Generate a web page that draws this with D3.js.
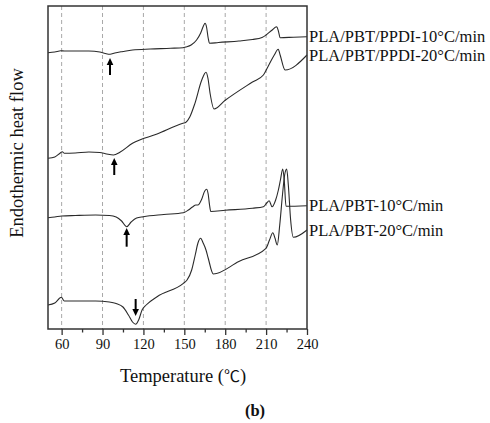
<!DOCTYPE html>
<html>
<head>
<meta charset="utf-8">
<script src="https://cdn.jsdelivr.net/npm/d3@7"></script>
<style>
  html, body { margin: 0; padding: 0; background: #fff; }
  svg { display: block; }
  text { font-family: "Liberation Serif", "Times New Roman", "DejaVu Serif", serif; fill: #111; }
</style>
</head>
<body>
<svg id="chart" width="490" height="423"></svg>
<script>
// ---- data (temperature °C, heat flow in arbitrary units) ----
const seriesNames = [
  "PLA/PBT/PPDI-10°C/min",
  "PLA/PBT/PPDI-20°C/min",
  "PLA/PBT-10°C/min",
  "PLA/PBT-20°C/min"
];

const pplaPbtPpdi10 = [
  [50,27.63],[55,27.70],[59.5,27.82],[62,27.80],[70,27.80],[80,27.80],[88,27.70],[92,27.55],
  [95.5,27.47],[99,27.60],[105,27.75],[112,27.90],[125,28.00],[140,28.07],[149,28.13],[151,28.20],
  [155,28.40],[159,28.90],[162,29.60],[164,30.30],[165.2,30.57],[166.3,30.20],[167.5,29.10],
  [168.5,28.57],[175,28.65],[190,28.80],[200,28.95],[207,29.15],[210,29.40],[214,29.85],
  [217.8,30.23],[219,29.80],[220.3,29.13],[230,29.18],[240,29.23]
];

const plaPbtPpdi20 = [
  [50,17.07],[55,17.20],[59,17.60],[60.5,17.73],[62,17.57],[70,17.60],[80,17.70],[88,17.65],
  [93,17.50],[98,17.40],[103,17.70],[112,18.57],[130,19.50],[149,20.57],[151,20.65],[154,21.20],
  [157.8,22.57],[162.8,24.90],[165.9,25.67],[167.3,25.10],[168.9,23.57],[171.8,22.00],
  [180,22.87],[200,24.70],[208,25.40],[212,26.40],[216,27.40],[218.9,27.97],[220.3,27.40],
  [223.9,25.90],[240,27.40]
];

const plaPbt10 = [
  [50,11.13],[55,11.20],[60,11.30],[70,11.35],[85,11.40],[95,11.35],[100,11.20],[104,10.80],
  [107.7,10.23],[111,10.70],[115,11.10],[120,11.23],[135,11.45],[149.3,11.63],[153,11.90],
  [156,12.20],[158.5,12.40],[160,12.40],[162.5,12.90],[165,13.80],[166.3,13.97],[167.5,13.50],
  [168.5,12.40],[169.4,11.75],[180,11.87],[200,12.08],[208,12.23],[210.5,12.60],[212.2,12.83],
  [214.4,12.23],[217,12.90],[219,13.90],[220.5,14.90],[222.2,16.00],[223.3,14.90],[224.6,12.28],
  [240,12.33]
];

const plaPbt20 = [
  [50,2.40],[55,2.60],[59.8,3.17],[62,2.80],[70,2.80],[85,2.80],[95,2.70],[100,2.55],[105,2.20],
  [109,1.40],[112,0.70],[114.3,0.47],[116.5,0.90],[119,1.90],[122,2.40],[130,3.23],[149.3,4.57],
  [152,4.90],[155.4,5.90],[158,7.40],[160,8.60],[162,9.07],[163.8,8.60],[165.9,7.90],[167.5,7.10],
  [171.3,5.50],[190,6.75],[209.9,8.07],[212.5,8.90],[214.9,9.63],[216.5,9.10],[218.2,8.40],
  [220,10.40],[222,13.40],[223.6,15.40],[225.1,16.00],[226.3,14.40],[228,10.90],[230,9.17],
  [240,9.90]
];

// arrows marking the cold crystallization / glass transition: [T, tail, tip]
const arrowMarks = [
  [95.5, 25.4, 27.1],
  [98.6, 15.4, 17.1],
  [107.7, 8.23, 10.1],
  [114.3, 3.0, 1.3]
];

const majorTicks = [60, 90, 120, 150, 180, 210, 240];
const minorTicks = [75, 105, 135, 165, 195, 225];
const gridTemps = [60, 90, 120, 150, 180, 210];

// ---- layout ----
const svg = d3.select("#chart");
const L = 48, R = 307, T = 6, B = 329;

const x = d3.scaleLinear().domain([50, 240]).range([L, R]);
const y = d3.scaleLinear().domain([0, 32.3]).range([B, T]);

// grid
svg.append("g").selectAll("line").data(gridTemps).join("line")
  .attr("x1", d => x(d)).attr("x2", d => x(d))
  .attr("y1", T).attr("y2", B)
  .attr("stroke", "#a8a8a8").attr("stroke-width", 1)
  .attr("stroke-dasharray", "4,3");

// curves
const line = d3.line().x(d => x(d[0])).y(d => y(d[1])).curve(d3.curveMonotoneX);
const allSeries = [pplaPbtPpdi10, plaPbtPpdi20, plaPbt10, plaPbt20];
svg.append("g").selectAll("path").data(allSeries).join("path")
  .attr("d", line)
  .attr("fill", "none").attr("stroke", "#2a2a2a").attr("stroke-width", 1.1);

// arrows
const ag = svg.append("g");
arrowMarks.forEach(([t, tail, tip]) => {
  const xp = x(t), y0 = y(tail), y1 = y(tip);
  const dir = Math.sign(y1 - y0);
  const headLen = 7, headW = 3.3;
  ag.append("line")
    .attr("x1", xp).attr("x2", xp)
    .attr("y1", y0).attr("y2", y1 - dir * headLen)
    .attr("stroke", "#000").attr("stroke-width", 2);
  ag.append("path")
    .attr("d", `M${xp},${y1} L${xp - headW},${y1 - dir * headLen} L${xp + headW},${y1 - dir * headLen} Z`)
    .attr("fill", "#000");
});

// frame
svg.append("rect")
  .attr("x", L).attr("y", T).attr("width", R - L).attr("height", B - T)
  .attr("fill", "none").attr("stroke", "#333").attr("stroke-width", 1.5);

// bottom axis
const xAxis = d3.axisBottom(x).tickValues(majorTicks).tickSize(6).tickPadding(4).tickFormat(d3.format("d"));
const ax = svg.append("g").attr("transform", `translate(0,${B})`).call(xAxis);
ax.select(".domain").remove();
ax.selectAll(".tick line").attr("stroke", "#333").attr("stroke-width", 1.3);
ax.selectAll(".tick text")
  .style("font-family", '"Liberation Serif", "Times New Roman", serif')
  .style("font-size", "14.5px").attr("fill", "#111");
const axMinor = d3.axisBottom(x).tickValues(minorTicks).tickSize(3.5).tickFormat("");
const axm = svg.append("g").attr("transform", `translate(0,${B})`).call(axMinor);
axm.select(".domain").remove();
axm.selectAll(".tick line").attr("stroke", "#333").attr("stroke-width", 1.3);

// series labels
svg.append("g").selectAll("text").data(allSeries).join("text")
  .attr("x", R + 2)
  .attr("y", d => y(d[d.length - 1][1]))
  .attr("dy", "0.35em")
  .style("font-size", "16.5px")
  .text((d, i) => seriesNames[i]);

// axis titles
svg.append("text")
  .attr("x", 183).attr("y", 382)
  .attr("text-anchor", "middle")
  .style("font-size", "18.5px")
  .html('Temperature (<tspan style="font-family: \'Noto Sans CJK SC\'; font-size:16px">℃</tspan>)');

svg.append("text")
  .attr("transform", "translate(23,153) rotate(-90)")
  .attr("text-anchor", "middle")
  .style("font-size", "18.5px")
  .text("Endothermic heat flow");

svg.append("text")
  .attr("x", 255).attr("y", 416)
  .attr("text-anchor", "middle")
  .style("font-size", "16.5px").style("font-weight", "bold")
  .text("(b)");
</script>
</body>
</html>
